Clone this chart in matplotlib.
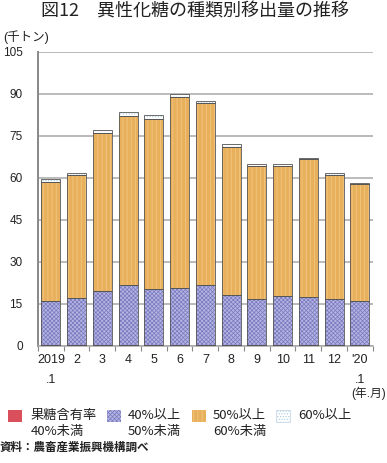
import matplotlib
matplotlib.use("Agg")
import matplotlib.pyplot as plt
from matplotlib.patches import Rectangle
import numpy as np

plt.rcParams['font.family'] = ['Liberation Sans', 'Noto Sans CJK JP', 'DejaVu Sans']
plt.rcParams['hatch.linewidth'] = 0.5

months = ["2019\n.1", "2", "3", "4", "5", "6", "7", "8", "9", "10", "11", "12", "'20\n.1"]
# 千トン
red_lt40 = [0.2, 0.2, 0.2, 0.2, 0.2, 0.2, 0.2, 0.2, 0.2, 0.2, 0.2, 0.2, 0.2]
blue_40_50 = [15.9, 16.8, 19.4, 21.5, 20.0, 20.4, 21.6, 17.9, 16.5, 17.5, 17.3, 16.7, 15.9]
orange_50_60 = [42.6, 44.0, 56.4, 60.4, 60.8, 68.2, 65.1, 53.1, 47.6, 46.7, 49.2, 44.2, 41.6]
white_60 = [0.9, 0.7, 1.1, 1.5, 1.4, 1.2, 0.7, 0.8, 0.6, 0.6, 0.4, 0.6, 0.4]

legend_labels = ["果糖含有率\n40%未満", "40%以上\n50%未満", "50%以上\n60%未満", "60%以上"]

W, H = 387, 463
fig = plt.figure(figsize=(W/100, H/100), dpi=100)
ax = fig.add_axes([38/W, 1-346/H, (372.7-38)/W, (346-52)/H])

x = np.arange(len(months))
bw = 0.74
edge = '#555555'

styles = [
    dict(fc='#D9505C', hatch=None, hc='#D9505C'),
    dict(fc='#B4B4E2', hatch='xxxxxxxx', hc='#7878BE'),
    dict(fc='#E9B05C', hatch='||||', hc='#F2CA8A'),
    dict(fc='#FFFFFF', hatch='......', hc='#A8CCE0'),
]
series = [red_lt40, blue_40_50, orange_50_60, white_60]
bottom = np.zeros(len(months))
for s, st in zip(series, styles):
    vals = np.array(s)
    ax.bar(x, vals, bw, bottom=bottom, color=st['fc'], edgecolor=st['hc'],
           hatch=st['hatch'], linewidth=0, zorder=3)
    ax.bar(x, vals, bw, bottom=bottom, facecolor='none', edgecolor=edge,
           linewidth=0.6, zorder=4)
    bottom += vals

ax.set_xlim(-0.5, 12.5)
ax.set_ylim(0, 105)
ax.set_yticks(np.arange(0, 106, 15))
ax.yaxis.grid(True, color='#A8A8A8', linewidth=1.1, zorder=0)
ax.set_axisbelow(True)
for sp in ['top', 'right']:
    ax.spines[sp].set_visible(False)
ax.spines['left'].set_color('#888888')
ax.spines['left'].set_linewidth(1.4)
ax.spines['bottom'].set_color('#A8A8A8')
ax.spines['bottom'].set_linewidth(1.1)
ax.tick_params(axis='y', length=0, pad=11, labelsize=8.5, labelcolor='#222222')

ax.set_xticks(np.arange(-0.5, 13, 1), minor=False)
ax.set_xticklabels([])
ax.tick_params(axis='x', which='major', length=3.5, color='#888888', width=0.8)
ax.set_xticks(x, minor=True)
ax.set_xticklabels(months, minor=True, fontsize=9, linespacing=1.9, color='#222222')
ax.tick_params(axis='x', which='minor', length=0, pad=6)

fig.text(3/W, 1-37.5/H, "(千トン)", fontsize=9, ha='left', va='center',
         color='#222222')
fig.text(386/W, 1-393/H, "(年.月)", fontsize=8.5, ha='right', va='center',
         color='#222222')
fig.text(195/W, 1-12/H, "図12　異性化糖の種類別移出量の推移", fontsize=13,
         ha='center', va='center', family=['Noto Sans CJK JP'], color='#222222')

# legend
patch_x = [8, 107, 192, 276]
text_x = [31, 128, 213, 298]
for px, tx, lab, st in zip(patch_x, text_x, legend_labels, styles):
    r = Rectangle((px/W, 1-422/H), 14/W, 12/H, transform=fig.transFigure,
                  facecolor=st['fc'], edgecolor=st['hc'], hatch=st['hatch'],
                  linewidth=0)
    fig.patches.append(r)
    if st['fc'] == '#FFFFFF':
        fig.patches.append(Rectangle((px/W, 1-422/H), 14/W, 12/H, transform=fig.transFigure,
                           facecolor='none', edgecolor='#C8D8E8', linewidth=0.6))
    fig.text(tx/W, 1-409/H, lab, fontsize=9.5, ha='left', va='top',
             linespacing=1.35, family=['Noto Sans CJK JP'], color='#222222')

fig.text(0/W, 1-447/H, "資料：農畜産業振興機構調べ", fontsize=8.3, ha='left', va='center',
         family=['Noto Sans CJK JP'], weight='bold', color='#222222')

fig.savefig("out.png", dpi=100)
